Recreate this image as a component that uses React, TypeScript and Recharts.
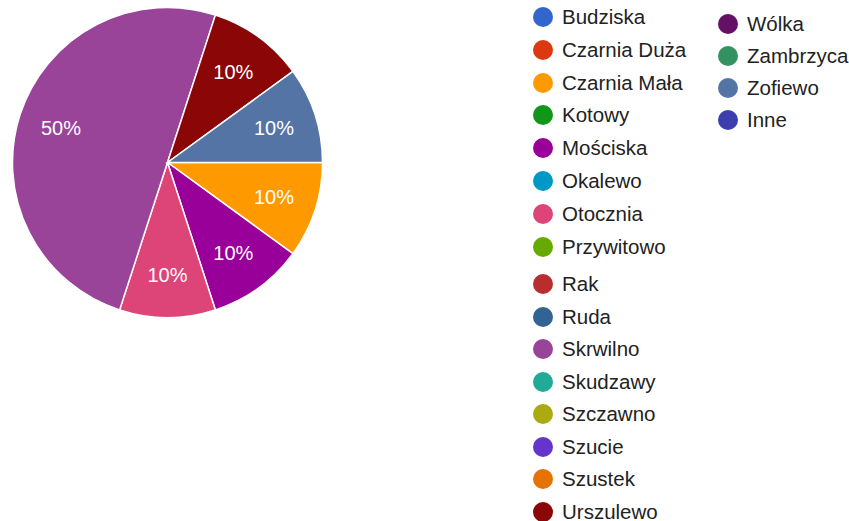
import React from "react";
import { PieChart, Pie, Cell } from "recharts";

// ── legend categories (Google-style palette) ──
const leftNames = [
  "Budziska", "Czarnia Duża", "Czarnia Mała", "Kotowy", "Mościska", "Okalewo",
  "Otocznia", "Przywitowo", "Rak", "Ruda", "Skrwilno", "Skudzawy",
  "Szczawno", "Szucie", "Szustek", "Urszulewo",
];
const leftColors = [
  "#3366cc", "#dc3912", "#ff9900", "#109618", "#990099", "#0099c6",
  "#dd4477", "#66aa00", "#b82e2e", "#316395", "#994499", "#22aa99",
  "#aaaa11", "#6633cc", "#e67300", "#8b0707",
];
const rightNames = ["Wólka", "Zambrzyca", "Zofiewo", "Inne"];
const rightColors = ["#651067", "#329262", "#5574a6", "#3b3eac"];

// ── answers: only non-empty slices, in legend order ──
const sliceNames = ["Czarnia Mała", "Mościska", "Otocznia", "Skrwilno", "Urszulewo", "Zofiewo"];
const sliceValues = [1, 1, 1, 5, 1, 1];

const FONT = "Arial, 'Liberation Sans', sans-serif";
const RADIAN = Math.PI / 180;

const allNames = [...leftNames, ...rightNames];
const allColors = [...leftColors, ...rightColors];
const colorOf = (n: string) => allColors[allNames.indexOf(n)];

const pieData = sliceNames.map((name, i) => ({ name, value: sliceValues[i] }));

function renderLabel(props: any) {
  const { cx, cy, midAngle, percent } = props;
  const r = 112;
  const x = cx + r * Math.cos(-midAngle * RADIAN);
  const y = cy + r * Math.sin(-midAngle * RADIAN);
  return (
    <text x={x} y={y} fill="#fff" fontSize={20} fontFamily={FONT} textAnchor="middle" dominantBaseline="central">
      {`${Math.round(percent * 100)}%`}
    </text>
  );
}

function LegendRow({ name, color, x, y }: { name: string; color: string; x: number; y: number }) {
  return (
    <div style={{ position: "absolute", left: x - 10, top: y - 12, height: 24, display: "flex", alignItems: "center", whiteSpace: "nowrap" }}>
      <span style={{ width: 20, height: 20, borderRadius: "50%", background: color, display: "inline-block" }} />
      <span style={{ marginLeft: 9, fontSize: 20.5, fontFamily: FONT, color: "#222" }}>{name}</span>
    </div>
  );
}

export default function App() {
  return (
    <div style={{ position: "absolute", left: 0, top: 0, width: 849, height: 521, background: "#fff", overflow: "hidden" }}>
      <PieChart width={849} height={521} margin={{ top: 0, right: 0, bottom: 0, left: 0 }}>
        <Pie
          data={pieData}
          dataKey="value"
          nameKey="name"
          cx={167.5}
          cy={162.5}
          outerRadius={155}
          startAngle={0}
          endAngle={-360}
          stroke="#fff"
          strokeWidth={1.5}
          label={renderLabel}
          labelLine={false}
          isAnimationActive={false}
        >
          {pieData.map((d) => <Cell key={d.name} fill={colorOf(d.name)} />)}
        </Pie>
      </PieChart>
      {leftNames.map((n, i) => (
        <LegendRow key={n} name={n} color={leftColors[i]} x={543} y={i < 8 ? 17 + i * 32.8 : 284 + (i - 8) * 32.5} />
      ))}
      {rightNames.map((n, i) => (
        <LegendRow key={n} name={n} color={rightColors[i]} x={728} y={24 + i * 32} />
      ))}
    </div>
  );
}
